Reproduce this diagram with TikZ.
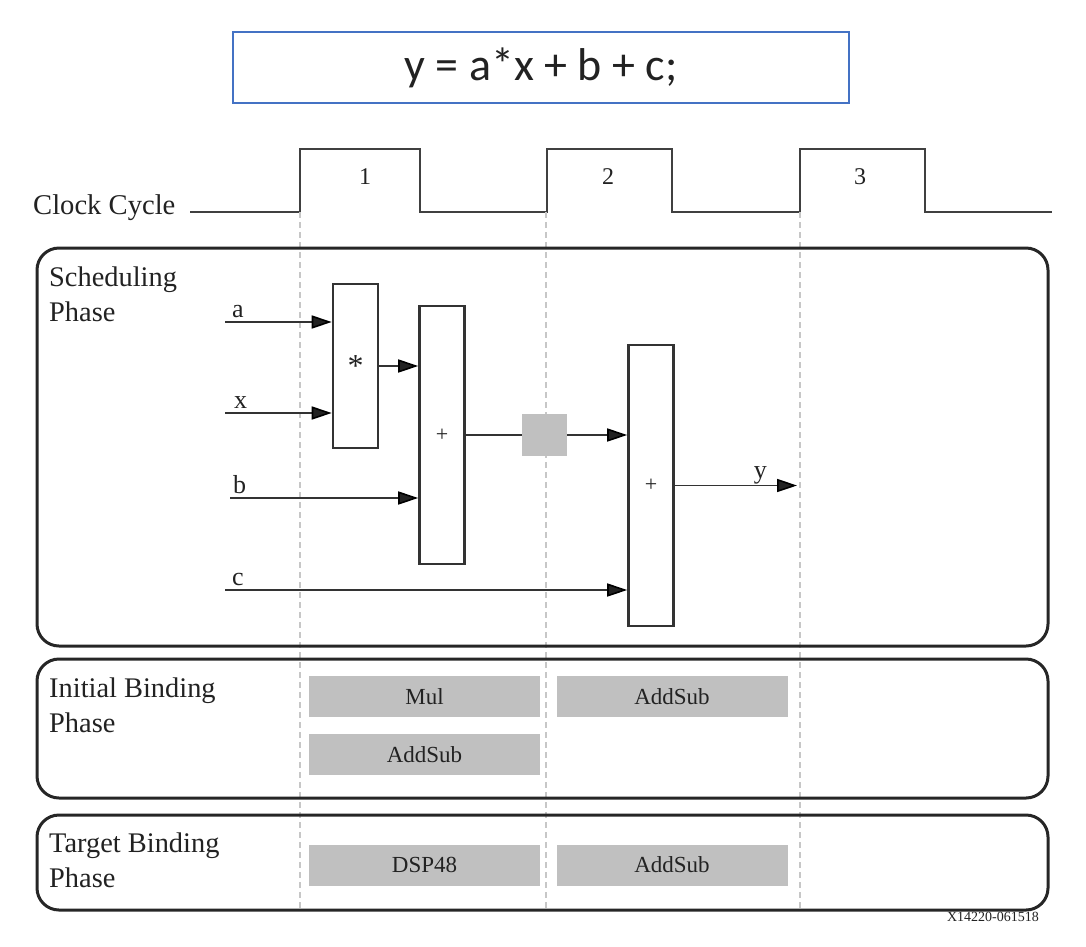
\documentclass[tikz,border=0pt]{standalone}
\usepackage{fontspec}
\setmainfont{Liberation Serif}
\newfontfamily\eqfont{Carlito}
\usetikzlibrary{arrows.meta,positioning}

\definecolor{eqblue}{HTML}{4472C4}
\definecolor{resgray}{HTML}{C0C0C0}
\definecolor{ink}{HTML}{222222}

\begin{document}
\begin{tikzpicture}[x=1pt,y=-1pt,
    opbox/.style={draw=black!80,line width=2.6pt,minimum width=45pt,inner sep=0pt,font=\fontsize{22}{24}\selectfont},
    resbox/.style={fill=resgray,minimum width=231pt,minimum height=41pt,inner sep=0pt,font=\fontsize{23}{26}\selectfont},
    phase/.style={draw=black!85,line width=3pt,rounded corners=22pt,minimum width=1011pt,inner sep=0pt},
    phaselabel/.style={anchor=north west,align=left,inner sep=0pt,font=\fontsize{28.4}{35}\selectfont},
    sig/.style={draw=black!80,line width=1.6pt,-{Triangle[length=20pt,width=13pt,color=black]}},
    sigl/.style={inner sep=0pt,font=\fontsize{26}{28}\selectfont},
    cyc/.style={inner sep=0pt,font=\fontsize{24}{26}\selectfont},
    grid/.style={draw=black!22,line width=1.2pt,dash pattern=on 6pt off 4pt}]
  \useasboundingbox (0,0) rectangle (1086,946);
  \color{ink}

  % expression
  \node[draw=eqblue,line width=1.5pt,minimum width=616pt,minimum height=71pt,
        font=\eqfont\fontsize{46}{50}\selectfont] (expr) at (541,67.5) {y = a*x + b + c;};

  % clock
  \node[anchor=base west,inner sep=0pt,font=\fontsize{28.6}{30}\selectfont] (clk) at (33,214) {Clock Cycle};
  \draw[black!75,line width=2.6pt] (190,212) -- (300,212) -- (300,149) -- (420,149) -- (420,212)
     -- (547,212) -- (547,149) -- (672,149) -- (672,212) -- (800,212) -- (800,149) -- (925,149)
     -- (925,212) -- (1052,212);
  \node[cyc] (c1) at (365,177) {1};
  \node[cyc] (c2) at (608,177) {2};
  \node[cyc] (c3) at (860,177) {3};

  % cycle boundaries
  \foreach \x in {300,546,800}
    \draw[grid] (\x,212) -- (\x,910);

  % phases
  \node[phase,minimum height=398pt] (sched) at (542.5,447) {};
  \node[phase,minimum height=139pt] (init) at (542.5,728.5) {};
  \node[phase,minimum height=95pt] (target) at (542.5,862.5) {};
  \node[phaselabel] (lsched) at (49,267) {Scheduling\\Phase};
  \node[phaselabel] (linit) at (49,678) {Initial Binding\\Phase};
  \node[phaselabel] (ltarget) at (49,833) {Target Binding\\Phase};

  % scheduling
  \node[opbox,minimum height=164pt,font=\fontsize{32}{32}\selectfont] (mul) at (355.5,366) {*};
  \node[opbox,minimum height=258pt] (add1) at (442,435) {+};
  \node[opbox,minimum height=281pt] (add2) at (651,485.5) {+};
  \node[fill=resgray,minimum width=45pt,minimum height=42pt,inner sep=0pt] (reg) at (544.5,435) {};

  \coordinate (ina) at (225,322);
  \coordinate (inx) at (225,413);
  \coordinate (inb) at (230,498);
  \coordinate (inc) at (225,590);
  \coordinate (outy) at (797,485.5);

  \node[sigl,above right=4pt and 7pt of ina] (la) {a};
  \node[sigl,above right=4pt and 9pt of inx] (lx) {x};
  \node[sigl,above right=4pt and 3pt of inb] (lb) {b};
  \node[sigl,above right=4pt and 7pt of inc] (lc) {c};
  \node[sigl,above left=1pt and 30pt of outy] (ly) {y};

  \draw[sig] (ina) -- (ina -| mul.west);
  \draw[sig] (inx) -- (inx -| mul.west);
  \draw[sig] (mul.east) -- (mul.east -| add1.west);
  \draw[sig] (inb) -- (inb -| add1.west);
  \draw[draw=black!80,line width=1.6pt] (add1.east) -- (reg.west);
  \draw[sig] (reg.east) -- (reg.east -| add2.west);
  \draw[sig] (inc) -- (inc -| add2.west);
  \draw[sig] (add2.east) -- (outy);

  % binding
  \node[resbox] (imul) at (424.5,696.5) {Mul};
  \node[resbox] (iadd2) at (672,696.5) {AddSub};
  \node[resbox] (iadd1) at (424.5,754.5) {AddSub};
  \node[resbox] (tdsp) at (424.5,865) {DSP48};
  \node[resbox] (tadd) at (672,865) {AddSub};

  \node[inner sep=0pt,font=\fontsize{14}{16}\selectfont] (fig) at (993,917) {X14220-061518};
\end{tikzpicture}
\end{document}
